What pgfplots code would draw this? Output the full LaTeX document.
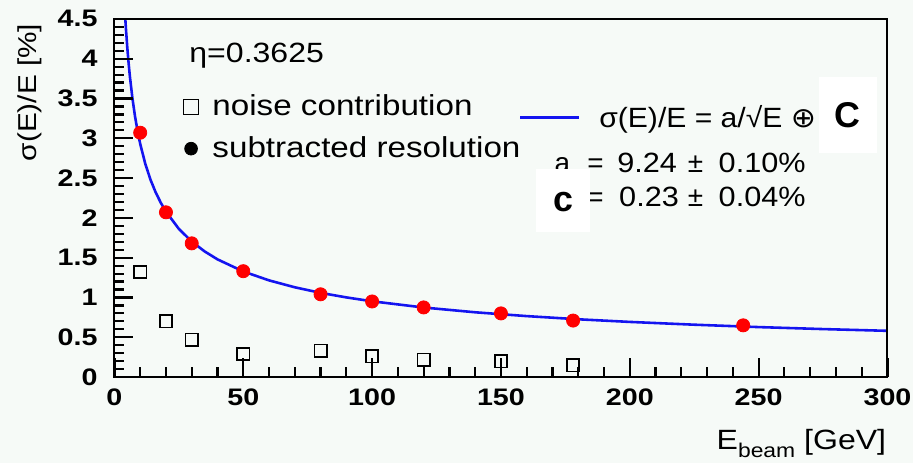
\documentclass[border=0pt]{standalone}
\usepackage{pgfplots}
\pgfplotsset{compat=1.18}
\usepackage{fontspec}
\setmainfont{Liberation Sans}
\newfontfamily\dejavu{DejaVu Sans}
\usepackage{graphicx}
\definecolor{bg}{RGB}{246,250,247}
\definecolor{fitblue}{RGB}{20,20,240}
\newcommand\sx[1]{\scalebox{1.15}[1]{#1}}
\newcommand\sxx[1]{\scalebox{1.2}[1]{#1}}
\newcommand\sxf[1]{\scalebox{1.08}[1]{#1}}
\newcommand\sxn[1]{\scalebox{1.1}[1]{#1}}

\pgfplotstableread{
E sig
10 3.07
20 2.07
30 1.68
50 1.33
80 1.04
100 0.95
120 0.875
150 0.80
178 0.71
244 0.65
}\subtracted

\pgfplotstableread{
E sig
10 1.32
20 0.70
30 0.47
50 0.29
80 0.33
100 0.26
120 0.22
150 0.20
178 0.15
}\noise

\pgfplotstableread{
E sig
4.2 4.515
4.5 4.362
5 4.139
5.5 3.947
6 3.779
7 3.500
8 3.275
9 3.089
10 2.931
12 2.677
14 2.480
16 2.321
18 2.190
20 2.079
25 1.862
30 1.703
35 1.579
40 1.479
50 1.327
60 1.215
70 1.128
80 1.058
90 1.001
100 0.952
120 0.874
140 0.814
160 0.766
180 0.726
200 0.693
225 0.658
250 0.628
275 0.603
300 0.581
}\fit

\begin{document}
\begin{tikzpicture}
\fill[bg] (0pt,0pt) rectangle (459pt,232.5pt);
\begin{axis}[
  at={(57.5pt,43pt)}, anchor=south west,
  scale only axis, width=388.5pt, height=180pt,
  xmin=0, xmax=300, ymin=0, ymax=4.5,
  axis on top,
  axis line style={line width=1pt},
  xtick pos=bottom, ytick pos=left, tick align=inside,
  xtick={0,50,100,150,200,250,300},
  ytick={0,0.5,1,1.5,2,2.5,3,3.5,4,4.5},
  minor xtick={10,20,30,40,60,70,80,90,110,120,130,140,160,170,180,190,210,220,230,240,260,270,280,290},
  minor ytick={0.1,0.2,0.3,0.4,0.6,0.7,0.8,0.9,1.1,1.2,1.3,1.4,1.6,1.7,1.8,1.9,2.1,2.2,2.3,2.4,2.6,2.7,2.8,2.9,3.1,3.2,3.3,3.4,3.6,3.7,3.8,3.9,4.1,4.2,4.3,4.4},
  major tick length=9.5pt, minor tick length=5pt,
  xtick style={draw=black, line width=1.1pt},
  ytick style={draw=black, line width=1.1pt},
  /pgf/number format/assume math mode=true,
  ticklabel style={font=\fontsize{12}{12}\selectfont\bfseries},
  xticklabel={\sxx{\pgfmathprintnumber{\tick}}},
  yticklabel={\sxx{\pgfmathprintnumber{\tick}}},
  yticklabel style={xshift=-5pt},
  xticklabel style={yshift=-2.5pt},
  legend style={at={(0.089,0.80)}, anchor=north west, draw=none, fill=none,
    inner sep=0pt, row sep=5pt, column sep=5pt,
    font=\fontsize{14.5}{14.5}\selectfont},
  legend cell align=left,
  legend image code/.code={\draw[#1] plot coordinates {(0pt,0pt)};},
]
\addlegendimage{only marks, mark=square, mark size=3.75pt, black, line width=0.6pt}
\addlegendentry{\sx{noise contribution}}
\addlegendimage{only marks, mark=*, mark size=3.2pt, black}
\addlegendentry{\sx{subtracted resolution}}
\addplot[only marks, mark=square, mark size=3.1pt, black, line width=0.8pt, forget plot] table[x=E,y=sig] {\noise};
\addplot[only marks, mark=*, mark size=3.3pt, red, draw=red, forget plot] table[x=E,y=sig] {\subtracted};
\addplot[fitblue, line width=1.3pt, forget plot] table[x=E,y=sig] {\fit};
\end{axis}
% texts
\node[anchor=base west, inner sep=0pt, font=\fontsize{14}{14}\selectfont] at (95pt,201pt) {\sx{η=0.3625}};
\draw[fitblue, line width=1.3pt] (261.5pt,173.5pt) -- (291pt,173.5pt);
\node[anchor=base west, inner sep=0pt, font=\fontsize{14}{14}\selectfont] at (301pt,168.5pt) {\sxf{σ(E)/E = a/√E {\dejavu ⊕}}};
\begin{scope}[every node/.style={anchor=base west, inner sep=0pt, font=\fontsize{14}{14}\selectfont}]
\node at (278.5pt,146pt) {a};
\node at (295pt,146pt) {=};
\node at (310pt,146pt) {\sxn{9.24}};
\node at (345.5pt,146pt) {±};
\node at (361pt,146pt) {\sxn{0.10\%}};
\node at (278.5pt,128.5pt) {c};
\node at (295pt,128.5pt) {=};
\node at (311pt,128.5pt) {\sxn{0.23}};
\node at (345.5pt,128.5pt) {±};
\node at (361pt,128.5pt) {\sxn{0.04\%}};
\end{scope}
\fill[white] (411.5pt,155.5pt) rectangle (440.5pt,194pt);
\node[font=\fontsize{18}{18}\selectfont\bfseries] at (426pt,174.5pt) {C};
\fill[white] (269.5pt,116pt) rectangle (296.5pt,147.5pt);
\node[font=\fontsize{18}{18}\selectfont\bfseries] at (283pt,131pt) {c};
% axis titles
\node[rotate=90, font=\fontsize{13}{13}\selectfont] at (15pt,186pt) {\sx{σ(E)/E [\%]}};
\node[anchor=base east, inner sep=0pt, font=\fontsize{14}{14}\selectfont] at (445.5pt,6.5pt) {\sx{E\raisebox{-4pt}{\fontsize{10}{10}\selectfont beam} [GeV]}};
\end{tikzpicture}
\end{document}
